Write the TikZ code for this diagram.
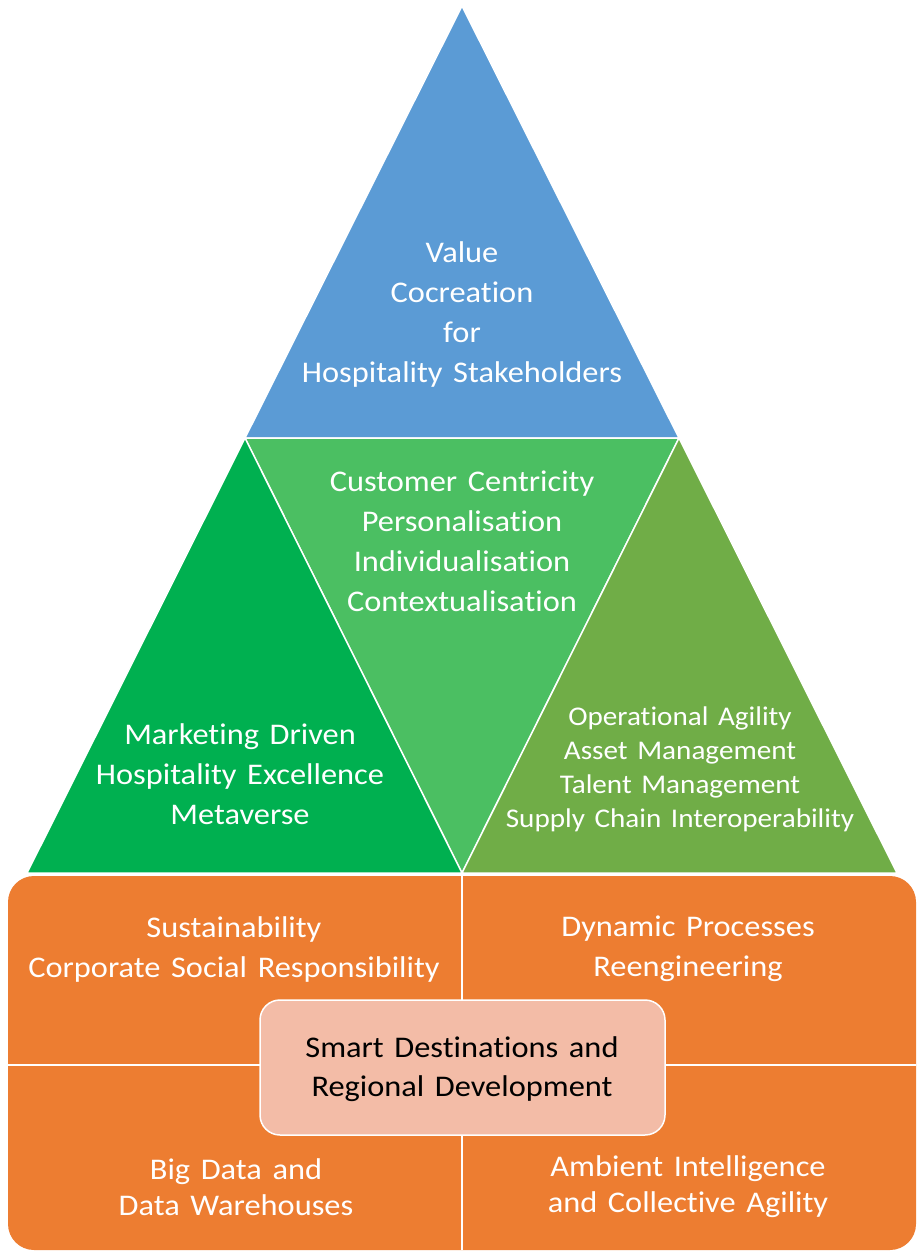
\documentclass[tikz,border=0pt]{standalone}
\usepackage{fontspec}
\setmainfont{Carlito}[FakeStretch=1.08, WordSpace=1.45, Ligatures=CommonOff]
\usepackage{tikz}
\definecolor{topblue}{HTML}{5B9BD5}
\definecolor{midgreen}{HTML}{4BBF62}
\definecolor{leftgreen}{HTML}{00B050}
\definecolor{rightgreen}{HTML}{70AD47}
\definecolor{baseorange}{HTML}{ED7D31}
\definecolor{centerpink}{HTML}{F3BCA7}
\tikzset{
	facet/.style={draw=white, line width=1.5pt, line join=round},
	label/.style={text=white, align=center, font=\fontsize{30}{40}\selectfont},
	smalllabel/.style={label, font=\fontsize{27}{34}\selectfont},
}
\begin{document}
\begin{tikzpicture}[x=1pt, y=-1pt]
%	\draw[help lines] (0,0)grid[step=100](919,1252);
	\useasboundingbox (0,0) rectangle (919,1252);

	%pyramid
	\fill[topblue, facet] (462,6) -- (679,438) -- (245,438) -- cycle;
	\fill[midgreen, facet] (245,438) -- (679,438) -- (462,873) -- cycle;
	\fill[leftgreen, facet] (245,438) -- (462,873) -- (27,873) -- cycle;
	\fill[rightgreen, facet] (679,438) -- (897,873) -- (462,873) -- cycle;

	%base
	\fill[baseorange, rounded corners=26pt] (8,876) rectangle (916,1250);
	\draw[white, line width=1.2pt] (462,876) -- (462,1250);
	\draw[white, line width=1.2pt] (8,1065) -- (916,1065);
	\draw[fill=centerpink, draw=white, line width=1.5pt, rounded corners=20pt] (260,1000) rectangle (665,1135);

	\node[label] (value) at (462,314) {Value\\Cocreation\\for\\Hospitality Stakeholders};
	\node[label] (customer) at (462,541) {Customer Centricity\\Personalisation\\Individualisation\\Contextualisation};
	\node[label] (marketing) at (240,774) {Marketing Driven\\Hospitality Excellence\\Metaverse};
	\node[smalllabel] (operational) at (680,769) {Operational Agility\\Asset Management\\Talent Management\\Supply Chain Interoperability};

	\node[label] (sustain) at (234,949) {Sustainability\\Corporate Social Responsibility};
	\node[label] (dynamic) at (688,949) {Dynamic Processes\\Reengineering};
	\node[label, text=black, font=\fontsize{30}{39}\selectfont] (smart) at (462,1069) {Smart Destinations and\\Regional Development};
	\node[label, font=\fontsize{30}{36}\selectfont] (bigdata) at (236,1187) {Big Data and\\Data Warehouses};
	\node[label, font=\fontsize{30}{36}\selectfont] (ambient) at (688,1187) {Ambient Intelligence\\and Collective Agility};
\end{tikzpicture}
\end{document}
